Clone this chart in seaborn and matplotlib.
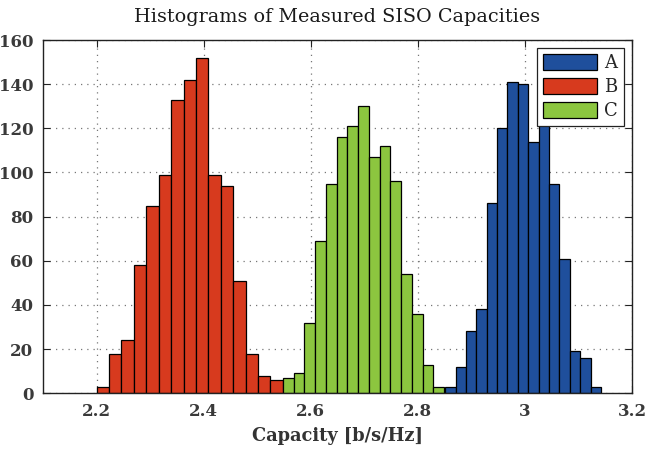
import numpy as np
import pandas as pd
import matplotlib
matplotlib.use("Agg")
import matplotlib.pyplot as plt
import seaborn as sns

# Histogram counts (15 bins per data set) and the range each set spans
labels = ["A", "B", "C"]
colors = ["#1f4f9c", "#d73a1e", "#8cc63f"]

range_a = (2.851, 3.142)
counts_a = [3, 12, 28, 38, 86, 120, 141, 140, 114, 123, 95, 61, 19, 16, 3]

range_b = (2.200, 2.548)
counts_b = [3, 18, 24, 58, 85, 99, 133, 142, 152, 99, 94, 51, 18, 8, 6]

range_c = (2.548, 2.849)
counts_c = [7, 9, 32, 69, 95, 116, 121, 130, 107, 112, 96, 54, 36, 13, 3]

x_ticks = [2.2, 2.4, 2.6, 2.8, 3.0, 3.2]
x_tick_labels = ["2.2", "2.4", "2.6", "2.8", "3", "3.2"]
y_ticks = [0, 20, 40, 60, 80, 100, 120, 140, 160]

sns.set_theme(style="white")
plt.rcParams["font.family"] = ["DejaVu Serif"]

fig = plt.figure(figsize=(6.47, 4.51), dpi=100)
ax = fig.add_axes([0.0665, 0.128, 0.9103, 0.7833])

for lab, col, rng, cnt in zip(labels, colors,
                              [range_a, range_b, range_c],
                              [counts_a, counts_b, counts_c]):
    edges = list(np.linspace(rng[0], rng[1], len(cnt) + 1))
    centers = [(lo + hi) / 2 for lo, hi in zip(edges[:-1], edges[1:])]
    df = pd.DataFrame({"capacity": centers, "count": cnt})
    sns.histplot(data=df, x="capacity", weights="count", bins=edges,
                 color=col, edgecolor="black", linewidth=0.9, alpha=1.0,
                 label=lab, ax=ax, zorder=2)

ax.set_xlim(2.1, 3.2)
ax.set_ylim(0, 160)
ax.set_xticks(x_ticks)
ax.set_xticklabels(x_tick_labels)
ax.set_yticks(y_ticks)

ax.grid(True, linestyle=(0, (1, 4)), color="#777777", linewidth=0.9, zorder=0)
ax.set_axisbelow(True)

for side in ["top", "right", "bottom", "left"]:
    ax.spines[side].set_visible(True)
    ax.spines[side].set_color("#222222")
    ax.spines[side].set_linewidth(1.0)

ax.tick_params(direction="in", length=5, width=0.8, top=True, right=True,
               bottom=True, left=True, colors="#222222",
               labelcolor="#3a3a3a", labelsize=12, pad=7)
for t in ax.get_xticklabels() + ax.get_yticklabels():
    t.set_fontweight("bold")

ax.set_title("Histograms of Measured SISO Capacities", fontsize=13.8,
             color="#1a1a1a", pad=13)
ax.set_xlabel("Capacity [b/s/Hz]", fontsize=12.8, color="#333333",
              labelpad=5, fontweight="bold")
ax.set_ylabel("")

leg = ax.legend(loc="upper right", fontsize=13, frameon=True, fancybox=False,
                edgecolor="#222222", framealpha=1.0, handlelength=3.0,
                handleheight=0.95, handletextpad=0.35, borderpad=0.35,
                labelspacing=0.32, borderaxespad=0.45)
leg.get_frame().set_linewidth(0.9)
leg.set_zorder(5)

fig.savefig("out.png", dpi=100)
